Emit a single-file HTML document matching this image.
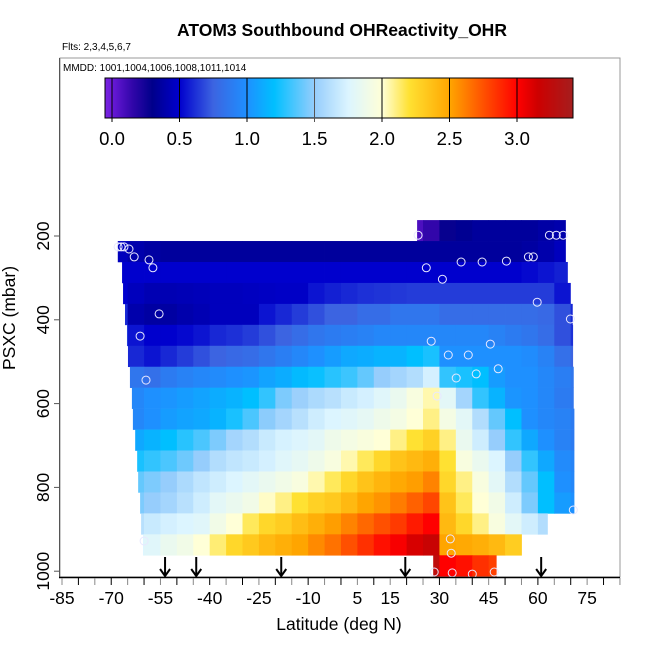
<!DOCTYPE html>
<html><head><meta charset="utf-8">
<style>
body{margin:0;background:#fff;}
svg{display:block;font-family:"Liberation Sans",sans-serif;}
</style></head>
<body>
<svg id="chart" width="650" height="650" viewBox="0 0 650 650" xmlns="http://www.w3.org/2000/svg">
<text x="342" y="36" text-anchor="middle" font-size="17.5" font-weight="bold">ATOM3 Southbound OHReactivity_OHR</text>
<text x="62" y="50" font-size="10">Flts: 2,3,4,5,6,7</text>
<rect x="60" y="58" width="560" height="519" fill="none" stroke="#999" stroke-width="1"/>
<text x="63" y="71" font-size="10">MMDD: 1001,1004,1006,1008,1011,1014</text>
<g id="heat"></g>
<g id="pts"></g>
<g id="arrows"></g>
<g id="cbar"></g>
<g id="axes"></g>
<text x="339" y="630" text-anchor="middle" font-size="17.5">Latitude (deg N)</text>
<text transform="translate(15,318) rotate(-90)" text-anchor="middle" font-size="17.5">PSXC (mbar)</text>
</svg>
<script>
const binStarts = [-70,-65,-60,-55,-50,-45,-40,-35,-30,-25,-20,-15,-10,-5,0,5,10,15,20,25,30,35,40,45,50,55,60,65,70];
const rowPressures = [187,237,287,337,387,437,487,537,587,637,687,737,787,837,887,937,987];
const rowStartLat = [23.2,-68,-66.7,-66.4,-65.8,-65.2,-64.9,-64.3,-63.7,-63.4,-62.7,-62.1,-61.8,-61.2,-60.9,-60.3,28.1];
const rowEndLat = [68.4,68.4,69,69.9,70.5,70.6,70.6,70.8,70.8,71,71,71,71,71,62.9,55,47.3];
const N=null;
const row0=[N,N,N,N,N,N,N,N,N,N,N,N,N,N,N,N,N,N,0.08,0.15,0.28,0.32,0.35,0.35,0.35,0.35,0.38,0.4,N];
const row1=[0.45,0.4,0.37,0.35,0.35,0.35,0.35,0.35,0.35,0.35,0.35,0.35,0.35,0.35,0.35,0.35,0.35,0.35,0.35,0.35,0.35,0.35,0.35,0.35,0.35,0.37,0.4,0.45,N];
const row2=[0.5,0.5,0.5,0.5,0.5,0.5,0.5,0.5,0.5,0.5,0.5,0.5,0.5,0.5,0.5,0.5,0.5,0.5,0.5,0.5,0.5,0.5,0.5,0.5,0.5,0.52,0.55,0.58,N];
const row3=[0.5,0.45,0.42,0.42,0.43,0.44,0.45,0.45,0.46,0.47,0.48,0.48,0.55,0.58,0.6,0.62,0.63,0.64,0.65,0.65,0.65,0.65,0.65,0.65,0.65,0.65,0.65,0.55,0.5];
const row4=[0.6,0.4,0.37,0.37,0.4,0.42,0.45,0.45,0.45,0.55,0.6,0.65,0.7,0.75,0.75,0.8,0.8,0.85,0.85,0.85,0.8,0.8,0.8,0.8,0.8,0.8,0.78,0.7,0.6];
const row5=[0.7,0.55,0.5,0.5,0.52,0.55,0.6,0.62,0.65,0.7,0.75,0.8,0.85,0.88,0.9,0.92,0.95,0.95,0.95,0.95,0.95,0.95,0.95,0.92,0.88,0.85,0.8,0.7,0.62];
const row6=[0.85,0.6,0.55,0.6,0.65,0.7,0.75,0.78,0.8,0.85,0.9,0.95,1.0,1.05,1.1,1.12,1.15,1.15,1.2,1.25,1.0,1.0,1.0,1.0,1.0,0.98,0.92,0.82,0.75];
const row7=[0.95,0.85,0.82,0.88,0.92,0.95,0.97,1.0,1.02,1.08,1.12,1.18,1.22,1.28,1.32,1.4,1.5,1.55,1.6,1.72,1.3,1.25,1.2,1.05,1.0,1.0,0.95,0.9,0.85];
const row8=[0.95,0.95,1.0,1.02,1.05,1.08,1.12,1.15,1.2,1.3,1.45,1.52,1.58,1.62,1.68,1.72,1.78,1.85,1.95,2.05,1.8,1.55,1.3,1.15,1.02,1.0,0.95,0.88,0.85];
const row9=[0.9,0.95,1.0,1.05,1.08,1.1,1.15,1.25,1.35,1.48,1.55,1.62,1.7,1.75,1.78,1.82,1.88,1.92,2.0,2.1,1.92,1.8,1.6,1.4,1.2,1.0,0.95,0.92,0.88];
const row10=[1.05,1.1,1.15,1.2,1.28,1.35,1.45,1.55,1.6,1.68,1.73,1.76,1.8,1.88,1.92,1.96,2.0,2.1,2.2,2.28,2.1,1.85,1.7,1.5,1.3,1.1,1.0,0.92,0.88];
const row11=[1.2,1.25,1.3,1.35,1.42,1.5,1.6,1.65,1.68,1.72,1.78,1.82,1.88,1.95,2.05,2.15,2.25,2.35,2.4,2.45,2.2,1.95,1.85,1.75,1.5,1.3,1.1,0.97,0.93];
const row12=[1.35,1.4,1.45,1.5,1.58,1.65,1.7,1.75,1.8,1.85,1.9,1.95,2.05,2.15,2.25,2.35,2.42,2.48,2.52,2.6,2.25,2.1,1.95,1.8,1.6,1.4,1.2,1.0,0.95];
const row13=[1.4,1.45,1.5,1.55,1.62,1.7,1.8,1.85,1.9,2.02,2.1,2.2,2.28,2.32,2.4,2.5,2.55,2.62,2.7,2.78,2.35,2.15,2.0,1.9,1.7,1.45,1.2,1.05,1.0];
const row14=[1.6,1.62,1.68,1.72,1.75,1.78,1.9,2.0,2.15,2.25,2.3,2.38,2.45,2.52,2.6,2.68,2.75,2.82,2.92,3.0,2.4,2.25,2.1,1.95,1.8,1.7,1.6,N,N];
const row15=[1.75,1.75,1.78,1.85,1.9,2.0,2.12,2.25,2.32,2.4,2.45,2.5,2.58,2.65,2.75,2.85,2.95,3.02,3.12,3.18,2.5,2.48,2.45,2.4,2.3,N,N,N,N];
const row16=[N,N,N,N,N,N,N,N,N,N,N,N,N,N,N,N,N,N,N,3.25,3.0,2.95,2.85,2.8,N,N,N,N,N];
const rowValues=[row0,row1,row2,row3,row4,row5,row6,row7,row8,row9,row10,row11,row12,row13,row14,row15,row16];
const pointLats=[-67.9,-67.0,-66.1,-64.6,-63.0,-58.5,-57.3,-55.4,-61.2,-59.4,-60.0,23.5,63.5,65.6,67.7,26.0,36.6,43.0,50.4,57.1,58.6,30.9,59.8,69.9,27.5,45.5,32.7,38.8,35.1,41.2,47.9,29.3,70.8,33.3,33.6,28.4,33.9,40.0,46.7];
const pointPres=[226,226,226,231,250,257,276,386,439,544,928,198,198,198,198,276,262,262,260,250,250,303,358,398,451,458,484,484,539,529,517,582,854,923,957,1002,1004,1007,1002];
const arrowLats=[-53.6,-44.1,-18.2,19.6,61.0];
const xTicks=[-85,-70,-55,-40,-25,-10,5,15,30,45,60,75];
const yTicks=[200,400,600,800,1000];
const cbTicks=[0,0.5,1,1.5,2,2.5,3];
const cbMin=-0.05, cbMax=3.41;

const NS="http://www.w3.org/2000/svg";
function xs(lat){return 62+(lat+85)*3.282;}
function ys(p){return 236+(p-200)*0.419;}
function cbx(v){return 112+v*135;}
const stops=[[-0.05,[122,36,226]],[0.0,[106,26,216]],[0.15,[50,6,170]],[0.3,[0,0,139]],[0.5,[0,0,205]],[0.75,[60,100,225]],[1.0,[30,144,255]],[1.2,[0,191,255]],[1.5,[150,205,252]],[1.75,[220,245,255]],[2.0,[255,255,215]],[2.2,[255,225,50]],[2.5,[255,165,0]],[2.75,[255,80,0]],[3.0,[255,0,0]],[3.15,[205,0,0]],[3.41,[165,30,30]]];
function col(v){
  if(v<=stops[0][0]) v=stops[0][0];
  for(let i=1;i<stops.length;i++){
    if(v<=stops[i][0]||i===stops.length-1){
      const a=stops[i-1],b=stops[i];let t=(v-a[0])/(b[0]-a[0]);t=Math.max(0,Math.min(1,t));
      return 'rgb('+a[1].map((c,k)=>Math.round(c+(b[1][k]-c)*t)).join(',')+')';
    }
  }
}
function mk(tag,attrs,parent){const e=document.createElementNS(NS,tag);for(const k in attrs)e.setAttribute(k,attrs[k]);parent.appendChild(e);return e;}

const heat=document.getElementById('heat');
rowValues.forEach((vals,r)=>{
  const y0=ys(rowPressures[r]-25), y1=ys(rowPressures[r]+25);
  vals.forEach((v,i)=>{
    if(v===null) return;
    const a=Math.max(binStarts[i],rowStartLat[r]), b=Math.min(binStarts[i]+5,rowEndLat[r]);
    if(b<=a) return;
    const x0=xs(a), x1=xs(b);
    const el=mk('rect',{x:x0.toFixed(2),y:y0.toFixed(2),width:(x1-x0+0.4).toFixed(2),height:(y1-y0+0.3).toFixed(2),fill:col(v)},heat);
    
    
  });
});
const pts=document.getElementById('pts');
pointLats.forEach((lat,i)=>{
  const c=mk('circle',{cx:xs(lat).toFixed(1),cy:ys(pointPres[i]).toFixed(1),r:4,fill:'none',stroke:'#e8e8ff','stroke-width':1},pts);
  
  
});
const arr=document.getElementById('arrows');
arrowLats.forEach(lat=>{
  const x=xs(lat);
  const g=mk('g',{},arr);
  
  
  mk('line',{x1:x,y1:557,x2:x,y2:576,stroke:'#000','stroke-width':2},g);
  mk('polyline',{points:(x-5)+',569 '+x+',576 '+(x+5)+',569',fill:'none',stroke:'#000','stroke-width':2},g);
});
const cb=document.getElementById('cbar');
for(let px=105;px<573;px++){
  const v=cbMin+(px-105+0.5)/(573-105)*(cbMax-cbMin);
  mk('rect',{x:px,y:78,width:1.2,height:40,fill:col(v)},cb);
}
mk('rect',{x:105,y:78,width:468,height:40,fill:'none',stroke:'#000','stroke-width':1},cb);
cbTicks.forEach(t=>{
  const x=cbx(t);
  mk('line',{x1:x,y1:78,x2:x,y2:122,stroke:t===1.5?'#555':'#000','stroke-width':1},cb);
  const tx=mk('text',{x:x,y:145,'text-anchor':'middle','font-size':18.5},cb);
  tx.textContent=t.toFixed(1);
  
  
});
const ax=document.getElementById('axes');
mk('line',{x1:59.5,y1:58,x2:59.5,y2:577,stroke:'#555','stroke-width':1},ax);
mk('line',{x1:59,y1:577.5,x2:620,y2:577.5,stroke:'#000','stroke-width':1.5},ax);
for(let lat=-85;lat<=85;lat+=5){
  const x=xs(lat);
  mk('line',{x1:x,y1:578,x2:x,y2:585,stroke:(lat%10===0)?'#000':'#888','stroke-width':1},ax);
}
xTicks.forEach(t=>{
  const tx=mk('text',{x:xs(t),y:604,'text-anchor':'middle','font-size':17.5},ax);
  tx.textContent=String(t);
  
  
});
yTicks.forEach(t=>{
  const y=ys(t);
  mk('line',{x1:54,y1:y,x2:59,y2:y,stroke:'#555','stroke-width':1},ax);
  const tx=mk('text',{transform:'translate(49,'+y+') rotate(-90)','text-anchor':'middle','font-size':17.5},ax);
  tx.textContent=String(t);
  
  
});
</script>
</body></html>
